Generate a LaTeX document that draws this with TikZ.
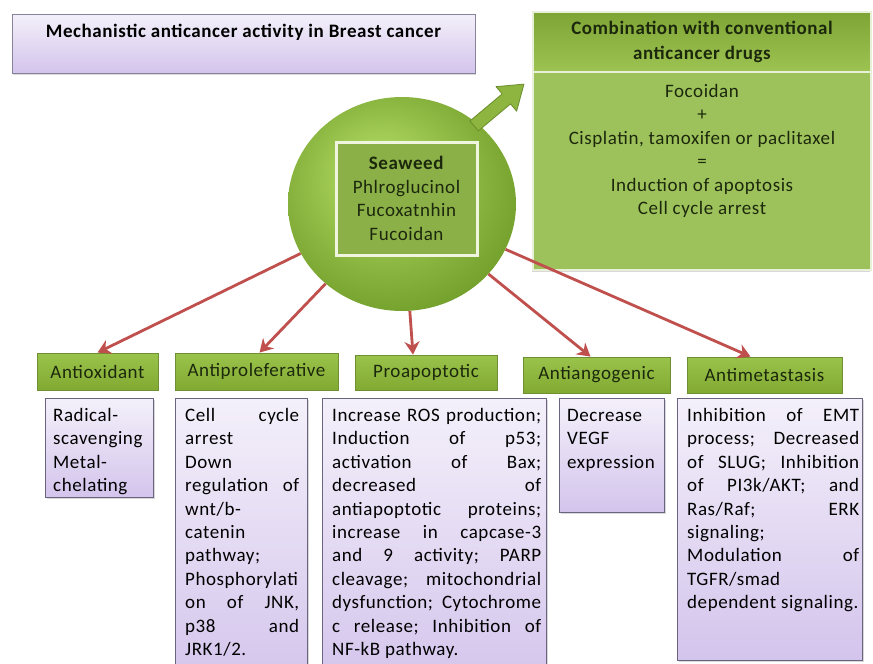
\documentclass[tikz,border=0pt]{standalone}
\usepackage{fontspec}
\setmainfont{Carlito}[LetterSpace=3]
\usetikzlibrary{shapes.geometric,arrows.meta,shadows}
\setlength\parindent{0pt}
\hbadness=10000 \hfuzz=10pt
\hyphenpenalty=10000 \exhyphenpenalty=10000
\definecolor{hdrtop}{HTML}{9AC34B}
\definecolor{hdrbot}{HTML}{82AA33}
\definecolor{hdrline}{HTML}{6E8F32}
\definecolor{hdrtext}{HTML}{1C280C}
\definecolor{bodytop}{HTML}{F4F0FA}
\definecolor{bodybot}{HTML}{D3C4EC}
\definecolor{bodyline}{HTML}{6A6480}
\definecolor{arrred}{HTML}{C0504D}
\definecolor{sbl}{HTML}{AAD45C}
\definecolor{sbd}{HTML}{6E9A27}
\definecolor{innerfill}{HTML}{8CB048}
\definecolor{innerline}{HTML}{F0F5E0}
\definecolor{combtop}{HTML}{7EA435}
\definecolor{combbot}{HTML}{9DC452}
\definecolor{combbody}{HTML}{9EC25B}
\definecolor{combline}{HTML}{E9F0D8}
\definecolor{garrow}{HTML}{8DB53F}
\definecolor{garrowline}{HTML}{6B8E2C}
\pgfdeclareradialshading{seaball}{\pgfpoint{-6bp}{8bp}}{color(0bp)=(sbl); color(6bp)=(sbl); color(32bp)=(sbd); color(50bp)=(sbd)}
\newcommand\bodyfont{\fontsize{19}{23.4}\selectfont}
\newcommand\titlefont{\fontsize{19}{24}\selectfont\bfseries}
\newcommand\hf{\hfill}
\tikzset{
  hdr/.style={draw=hdrline, line width=0.8pt, top color=hdrtop, bottom color=hdrbot,
    inner sep=0pt, font=\bodyfont, text=hdrtext},
  bodybox/.style={draw=bodyline, line width=1pt, top color=bodytop, bottom color=bodybot,
    inner sep=0pt, anchor=north west,
    drop shadow={shadow xshift=1.2pt, shadow yshift=-1.5pt, opacity=0.3}},
  bodytext/.style={inner sep=0pt, anchor=north west, align=justify, font=\bodyfont, text=black},
  redarrow/.style={draw=arrred, line width=2.8pt, -{Stealth[length=13pt,width=15pt]}},
}
\begin{document}
\begin{tikzpicture}[x=1pt,y=-1pt]
\clip (0,0) rectangle (873,664);
\fill[white] (0,0) rectangle (873,664);

% title
\node[draw=bodyline!80, line width=1pt, top color=bodytop, bottom color=bodybot,
  minimum width=463pt, minimum height=59pt, inner sep=0pt,
  drop shadow={shadow xshift=1pt, shadow yshift=-2pt, opacity=0.3}] (tbox) at (243.5,43.5) {};
\node[font=\titlefont, inner sep=0pt] (ttl) at (243.5,32) {Mechanistic anticancer activity in Breast cancer};

% combination box
\node[draw=combline, line width=1.2pt, fill=combbody, minimum width=338pt, minimum height=198pt,
  inner sep=0pt, drop shadow={shadow xshift=-1.5pt, shadow yshift=-2pt, opacity=0.3}] (cbody) at (702,171) {};
\node[draw=combline, line width=1.2pt, top color=combtop, bottom color=combbot,
  minimum width=338pt, minimum height=60pt, inner sep=0pt, align=center,
  font={\fontsize{19}{25}\selectfont\bfseries}, text=hdrtext] (chead) at (702,42)
  {Combination with conventional\\anticancer drugs};
\node[align=center, font=\bodyfont, text=hdrtext, inner sep=0pt] (ctext) at (702,151)
  {Focoidan\\+\\Cisplatin, tamoxifen or paclitaxel\\=\\Induction of apoptosis\\Cell cycle arrest};

% central circle
\node[ellipse, minimum width=228pt, minimum height=214pt, inner sep=0pt, shade, shading=seaball] (seed) at (402,204) {};
\node[draw=innerline, line width=3pt, fill=innerfill, minimum width=141pt, minimum height=113pt,
  inner sep=0pt, align=center, font=\bodyfont, text=hdrtext] (inner) at (406.5,198.5)
  {\textbf{Seaweed}\\Phlroglucinol\\Fucoxatnhin\\Fucoidan};

% green block arrow
\coordinate (ga) at (seed.47);
\begin{scope}[shift={(ga)}, rotate=40]
  \filldraw[fill=garrow, draw=garrowline, line width=0.8pt, line join=round]
    (-4,-6.5) -- (38,-6.5) -- (38,-16) -- (61,0) -- (38,16) -- (38,6.5) -- (-4,6.5) -- cycle;
\end{scope}

% category headers
\node[hdr, minimum width=121pt, minimum height=37pt] (antiox) at (97.5,371.5) {Antioxidant};
\node[hdr, minimum width=163pt, minimum height=37pt] (antiprol) at (256.5,371.5) {Antiproleferative};
\node[hdr, minimum width=142pt, minimum height=35pt] (proap) at (426,372.5) {Proapoptotic};
\node[hdr, minimum width=147pt, minimum height=36pt] (antiang) at (596.5,375) {Antiangogenic};
\node[hdr, minimum width=155pt, minimum height=36pt] (antimet) at (764.5,375) {Antimetastasis};

% red arrows
\draw[redarrow] (seed) -- (antiox.north);
\draw[redarrow] (seed) -- ([xshift=3pt]antiprol.north);
\draw[redarrow] (seed) -- ([xshift=-13pt]proap.north);
\draw[redarrow] (seed) -- ([xshift=-6pt]antiang.north);
\draw[redarrow] (seed) -- ([xshift=-14pt]antimet.north);

% body boxes
\node[bodybox, minimum width=108pt, minimum height=99pt] (radbox) at (45,398) {};
\node[bodybox, minimum width=132pt, minimum height=290pt] (cellbox) at (175,398) {};
\node[bodybox, minimum width=224pt, minimum height=290pt] (probox) at (322,398) {};
\node[bodybox, minimum width=105pt, minimum height=114pt] (vegfbox) at (559,398) {};
\node[bodybox, minimum width=185pt, minimum height=262pt] (metbox) at (677,398) {};

% body texts
\node[bodytext, text width=96pt] (radtxt) at ([xshift=8pt]radbox.north west |- 0,405)
  {\strut Radical-\\scavenging\\Metal-\\chelating};
\node[bodytext, text width=114pt] (celltxt) at ([xshift=10pt]cellbox.north west |- 0,405)
  {\strut Cell \hf cycle\\arrest\\Down\\regulation \hf of\\wnt/b-\\catenin\\pathway;\\Phosphorylati\\on \hf of \hf JNK,\\p38 \hf and\\JRK1/2.};
\node[bodytext, text width=209pt] (protxt) at ([xshift=10pt]probox.north west |- 0,405)
  {\strut Increase \hf ROS \hf production;\\Induction \hf of \hf p53;\\activation \hf of \hf Bax;\\decreased \hf of\\antiapoptotic \hf proteins;\\increase \hf in \hf capcase-3\\and \hf 9 \hf activity; \hf PARP\\cleavage; \hf mitochondrial\\dysfunction; \hf Cytochrome\\c \hf release; \hf Inhibition \hf of\\NF-kB pathway.};
\node[bodytext, text width=90pt] (vegftxt) at ([xshift=8pt]vegfbox.north west |- 0,405)
  {\strut Decrease\\VEGF\\expression};
\node[bodytext, text width=172pt] (mettxt) at ([xshift=10pt]metbox.north west |- 0,405)
  {\strut Inhibition \hf of \hf EMT\\process; \hf Decreased\\of \hf SLUG; \hf Inhibition\\of \hf PI3k/AKT; \hf and\\Ras/Raf; \hf ERK\\signaling;\\Modulation \hf of\\TGFR/smad\\\mbox{dependent signaling.}};
\end{tikzpicture}
\end{document}
